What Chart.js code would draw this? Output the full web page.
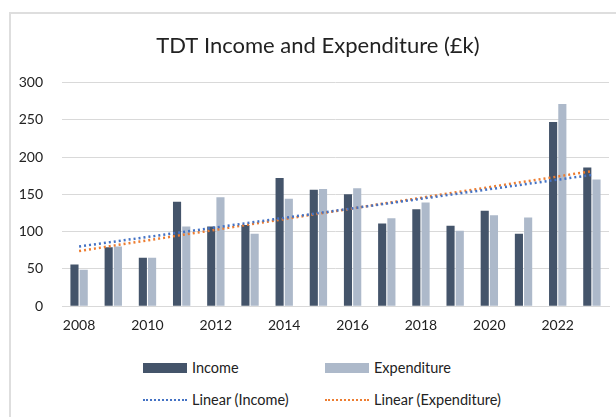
<!DOCTYPE html>
<html>
<head>
<meta charset="utf-8">
<script src="https://cdn.jsdelivr.net/npm/chart.js@4"></script>
<style>
  body { margin: 0; background: #fff; font-family: Lato, 'Open Sans', sans-serif; }
  #wrap { position: relative; width: 616px; height: 417px; overflow: hidden; }
  #frameTop { position: absolute; left: 9px; top: 12px; width: 620px; height: 0; border-top: 2px solid #dedede; }
  #frameLeft { position: absolute; left: 9px; top: 12px; width: 0; height: 420px; border-left: 2px solid #dedede; }
  canvas { position: absolute; left: 0; top: 0; }
  .lg { position: absolute; font-size: 14.5px; color: #222; line-height: 16px; white-space: nowrap; }
  .sw { position: absolute; }
</style>
</head>
<body>
<div id="wrap">
  <div id="frameTop"></div>
  <div id="frameLeft"></div>
  <canvas id="chart" width="616" height="351"></canvas>

  <div class="sw" style="left:143px; top:363px; width:44px; height:10px; background:#44546A;"></div>
  <div class="lg" style="left:192px; top:360px;">Income</div>
  <div class="sw" style="left:325px; top:363px; width:44px; height:10px; background:#ADB9CA;"></div>
  <div class="lg" style="left:374px; top:360px;">Expenditure</div>

  <div class="sw" style="left:143px; top:399px; width:44px; height:0; border-top:2px dotted #4472C4;"></div>
  <div class="lg" style="left:192px; top:392px;">Linear (Income)</div>
  <div class="sw" style="left:325px; top:399px; width:44px; height:0; border-top:2px dotted #ED7D31;"></div>
  <div class="lg" style="left:374px; top:392px;">Linear (Expenditure)</div>
</div>

<script>
// data (£k)
const years = ['2008','2009','2010','2011','2012','2013','2014','2015','2016','2017','2018','2019','2020','2021','2022','2023'];
const income = [56, 79, 65, 140, 107, 109, 172, 156, 150, 111, 130, 108, 128, 97, 247, 186];
const expenditure = [49, 80, 65, 107, 146, 97, 144, 157, 158, 118, 139, 101, 122, 119, 271, 170];
// trend line ends as seen in the picture (first and last year)
const incomeTrend = [80, 176];
const expenditureTrend = [74, 181];
const yTicks = [0, 50, 100, 150, 200, 250, 300];

// trend line only has its two end points, the rest are gaps
function trendData(ends) {
    return years.map((y, i) => i === 0 ? ends[0] : (i === years.length - 1 ? ends[1] : null));
}

const tickFont = { family: 'Lato', size: 14 };

// title is centred on the outer frame, not the canvas
const shiftTitle = {
    id: 'shiftTitle',
    afterLayout(chart) {
        if (chart.titleBlock) {
            chart.titleBlock.left = 27;
            chart.titleBlock.right = 609;
        }
    }
};

new Chart(document.getElementById('chart'), {
    type: 'bar',
    data: {
        labels: years,
        datasets: [
            {
                label: 'Income',
                data: income,
                backgroundColor: '#44546A',
                barPercentage: 0.88,
                categoryPercentage: 0.54,
                order: 2
            },
            {
                label: 'Expenditure',
                data: expenditure,
                backgroundColor: '#ADB9CA',
                barPercentage: 0.88,
                categoryPercentage: 0.54,
                order: 2
            },
            {
                type: 'line',
                label: 'Linear (Income)',
                data: trendData(incomeTrend),
                borderColor: '#4472C4',
                borderWidth: 2.5,
                borderDash: [2, 3],
                pointRadius: 0,
                spanGaps: true,
                order: 0
            },
            {
                type: 'line',
                label: 'Linear (Expenditure)',
                data: trendData(expenditureTrend),
                borderColor: '#ED7D31',
                borderWidth: 2.5,
                borderDash: [2, 3],
                pointRadius: 0,
                spanGaps: true,
                order: 1
            }
        ]
    },
    plugins: [shiftTitle],
    options: {
        responsive: false,
        animation: false,
        layout: { padding: { left: 0, right: 7, top: 12, bottom: 6 } },
        plugins: {
            legend: { display: false },
            tooltip: { enabled: false },
            title: {
                display: true,
                text: 'TDT Income and Expenditure (£k)',
                color: '#222',
                font: { family: 'Lato', size: 22, weight: 'normal' },
                padding: { top: 21, bottom: 23 }
            }
        },
        scales: {
            x: {
                grid: { display: false, drawTicks: false },
                border: { color: '#d9d9d9', width: 1 },
                ticks: {
                    color: '#222',
                    font: tickFont,
                    padding: 11,
                    autoSkip: false,
                    maxRotation: 0,
                    callback: (v, i) => i % 2 === 0 ? years[i] : ''
                }
            },
            y: {
                min: 0,
                max: 300,
                afterFit: (s) => { s.width = 62; },
                afterBuildTicks: (s) => { s.ticks = yTicks.map(v => ({ value: v })); },
                grid: { color: '#d9d9d9', drawTicks: false },
                border: { display: false },
                ticks: { color: '#222', font: tickFont, padding: 19 }
            }
        }
    }
});
</script>
</body>
</html>
